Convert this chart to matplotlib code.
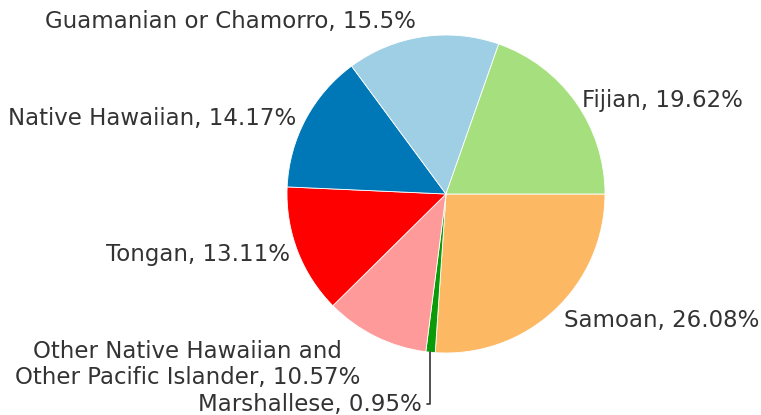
import numpy as np
import matplotlib.pyplot as plt

# Data
groups = ["Samoan", "Marshallese", "Other Native Hawaiian and\nOther Pacific Islander",
          "Tongan", "Native Hawaiian", "Guamanian or Chamorro", "Fijian"]
shares = [26.08, 0.95, 10.57, 13.11, 14.17, 15.5, 19.62]
share_text = ["26.08%", "0.95%", "10.57%", "13.11%", "14.17%", "15.5%", "19.62%"]

colors = ["#fdb863", "#099b08", "#ff9a9a", "#ff0000", "#0077b6", "#9ecfe5", "#a6df7e"]

# label layout: offset in pixels from the rim point at the wedge middle, alignment
label_layout = [
    ((9, -10), "left"),
    ((-9, -52), "right"),
    ((-15, -28), "right"),
    ((-8, -3), "right"),
    ((-9, 1), "right"),
    ((-7, 15), "right"),
    ((6, 2), "left"),
]

fig = plt.figure(figsize=(7.61, 4.15), dpi=100)
ax = fig.add_axes([0, 0, 1, 1])

R = 159.0
wedges, _ = ax.pie(shares, colors=colors, startangle=0, counterclock=False,
                   radius=1, center=(0, 0),
                   wedgeprops=dict(edgecolor="white", linewidth=0.6))
ax.set_aspect("auto")
ax.set_xlim(-446 / R, (761 - 446) / R)
ax.set_ylim(-(415 - 194) / R, 194 / R)
ax.axis("off")

for w, g, t, (off, ha) in zip(wedges, groups, share_text, label_layout):
    mid = np.deg2rad((w.theta1 + w.theta2) / 2)
    xy = (np.cos(mid), np.sin(mid))
    label = g + ", " + t
    if g == "Marshallese":
        ax.annotate(label, xy=xy, xytext=off, textcoords="offset pixels",
                    ha=ha, va="center", fontsize=16.5, color="#333333",
                    arrowprops=dict(arrowstyle="-", color="#333333", lw=1.2,
                                    shrinkA=2, shrinkB=0,
                                    connectionstyle="angle,angleA=0,angleB=90,rad=0"))
    else:
        ax.annotate(label, xy=xy, xytext=off, textcoords="offset pixels",
                    ha=ha, va="center", multialignment="center",
                    fontsize=16.5, color="#333333", linespacing=1.15)

fig.savefig("out.png", dpi=100)
